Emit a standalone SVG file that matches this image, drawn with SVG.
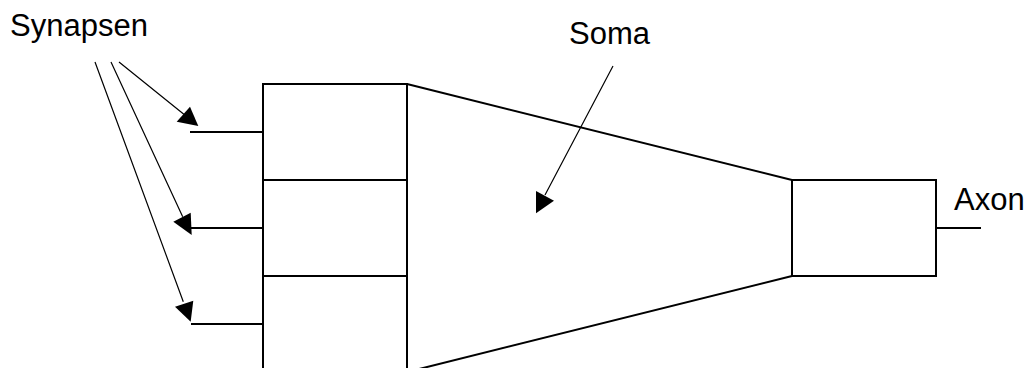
<svg xmlns="http://www.w3.org/2000/svg" width="1030" height="368" viewBox="0 0 1030 368">
<style>
.box{fill:none;stroke:#000;stroke-width:2}
.thick{stroke:#000;stroke-width:2;fill:none}
.thin{stroke:#000;stroke-width:1.2;fill:none}
.head{fill:#000;stroke:none}
text{font-family:"Liberation Sans",Arial,sans-serif;font-size:31px;fill:#000}
</style>
<rect width="1030" height="368" fill="#fff"/>
<g id="dendrites">
<rect class="box" x="263" y="84" width="144" height="96"/>
<rect class="box" x="263" y="180" width="144" height="96"/>
<rect class="box" x="263" y="276" width="144" height="96"/>
</g>
<g id="soma">
<path class="thick" d="M407,84 L792,180 M407,372 L792,276"/>
</g>
<g id="axon">
<rect class="box" x="792" y="180" width="144" height="96"/>
</g>
<g id="connectors">
<path class="thick" d="M190,132 H263 M191,228 H263 M191,324 H263 M936,228 H981"/>
<path class="thin" d="M119,62 L186,116 M111,62 L182.7,216.7 M95,62 L183.3,301.7 M613,66 L545,195"/>
<polygon class="head" points="176.7,121.7 190,106.7 198.3,126"/>
<polygon class="head" points="173.3,221.7 190.7,212.7 191.7,235"/>
<polygon class="head" points="175,306.7 193.3,300.7 190.7,321.7"/>
<polygon class="head" points="536,191 554,200.7 536,213.3"/>
</g>
<g id="labels">
<text x="10" y="35.5">Synapsen</text>
<text x="569" y="43.5">Soma</text>
<text x="954" y="210">Axon</text>
</g>
</svg>
